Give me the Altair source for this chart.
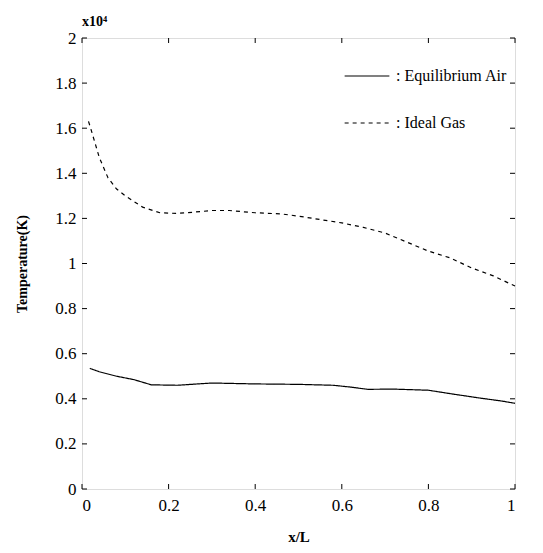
import altair as alt
import pandas as pd

series = ["Equilibrium Air", "Ideal Gas"]

x_eq = [0.018, 0.04, 0.08, 0.12, 0.16, 0.22, 0.30, 0.40, 0.50, 0.58, 0.62, 0.66, 0.72, 0.80, 0.86, 0.92, 0.97, 1.0]
t_eq = [0.535, 0.52, 0.50, 0.485, 0.462, 0.46, 0.47, 0.466, 0.464, 0.46, 0.452, 0.442, 0.443, 0.438, 0.42, 0.403, 0.39, 0.38]

x_ig = [0.015, 0.02, 0.04, 0.06, 0.08, 0.10, 0.14, 0.18, 0.22, 0.26, 0.30, 0.34, 0.40, 0.46, 0.50, 0.55, 0.60, 0.65, 0.70, 0.75, 0.80, 0.85, 0.90, 0.95, 1.0]
t_ig = [1.63, 1.60, 1.47, 1.38, 1.33, 1.30, 1.25, 1.225, 1.222, 1.228, 1.235, 1.235, 1.225, 1.22, 1.21, 1.195, 1.18, 1.16, 1.135, 1.095, 1.055, 1.025, 0.98, 0.945, 0.90]

x_ticks = [0, 0.2, 0.4, 0.6, 0.8, 1.0]
y_ticks = [0, 0.2, 0.4, 0.6, 0.8, 1.0, 1.2, 1.4, 1.6, 1.8, 2.0]

W, H = 433, 451
FONT = "Liberation Serif"

df = pd.DataFrame(
    [{"x": a, "T": b, "series": series[0]} for a, b in zip(x_eq, t_eq)]
    + [{"x": a, "T": b, "series": series[1]} for a, b in zip(x_ig, t_ig)]
)
dfx = pd.DataFrame({"x": x_ticks})
dfy = pd.DataFrame({"T": y_ticks})

xs = alt.Scale(domain=[0, 1], nice=False)
ys = alt.Scale(domain=[0, 2], nice=False)

xaxis = alt.Axis(
    title="x/L", values=x_ticks, format=".1~f", ticks=False, grid=False, domain=False,
    labelFont=FONT, labelFontSize=17, labelColor="black", labelPadding=8,
    titleFont=FONT, titleFontSize=15, titleFontWeight="bold", titleColor="black", titlePadding=16)
yaxis = alt.Axis(
    title="Temperature(K)", values=y_ticks, format=".1~f", ticks=False, grid=False, domain=False,
    labelFont=FONT, labelFontSize=17, labelColor="black", labelPadding=6,
    titleFont=FONT, titleFontSize=14, titleFontWeight="bold", titleColor="black", titlePadding=25)

lines = alt.Chart(df).mark_line(color="black", strokeWidth=1.2).encode(
    x=alt.X("x:Q", scale=xs, axis=xaxis),
    y=alt.Y("T:Q", scale=ys, axis=yaxis),
    strokeDash=alt.StrokeDash("series:N", scale=alt.Scale(domain=series, range=[[1, 0], [4, 4]]),
        legend=alt.Legend(orient="none", legendX=262, legendY=15, title=None,
                          symbolType="stroke", symbolStrokeColor="black", symbolStrokeWidth=1.2,
                          symbolSize=2000, labelExpr="': ' + datum.label",
                          labelFont=FONT, labelFontSize=16, labelColor="black",
                          rowPadding=16, labelOffset=6)),
)

def rules_x(y0, y1):
    return alt.Chart(dfx).mark_rule(color="black", strokeWidth=1).encode(
        x=alt.X("x:Q", scale=xs, axis=xaxis), y=alt.value(y0), y2=alt.value(y1))

def rules_y(x0, x1):
    return alt.Chart(dfy).mark_rule(color="black", strokeWidth=1).encode(
        y=alt.Y("T:Q", scale=ys, axis=yaxis), x=alt.value(x0), x2=alt.value(x1))

chart = alt.layer(
    lines,
    rules_x(H, H - 5), rules_x(0, 5),
    rules_y(0, 5), rules_y(W - 5, W),
).properties(
    width=W, height=H,
    title=alt.TitleParams("x10\u2074", anchor="start", frame="group", font=FONT,
                          fontSize=14, fontWeight="bold", color="black", offset=0),
    autosize=alt.AutoSizeParams(type="none"),
    padding={"left": 74, "top": 30, "right": 20, "bottom": 56},
).configure_view(stroke="black", strokeWidth=1.2).configure(background="white")

chart.save("out.html", embed_options={"renderer": "svg", "actions": False})
